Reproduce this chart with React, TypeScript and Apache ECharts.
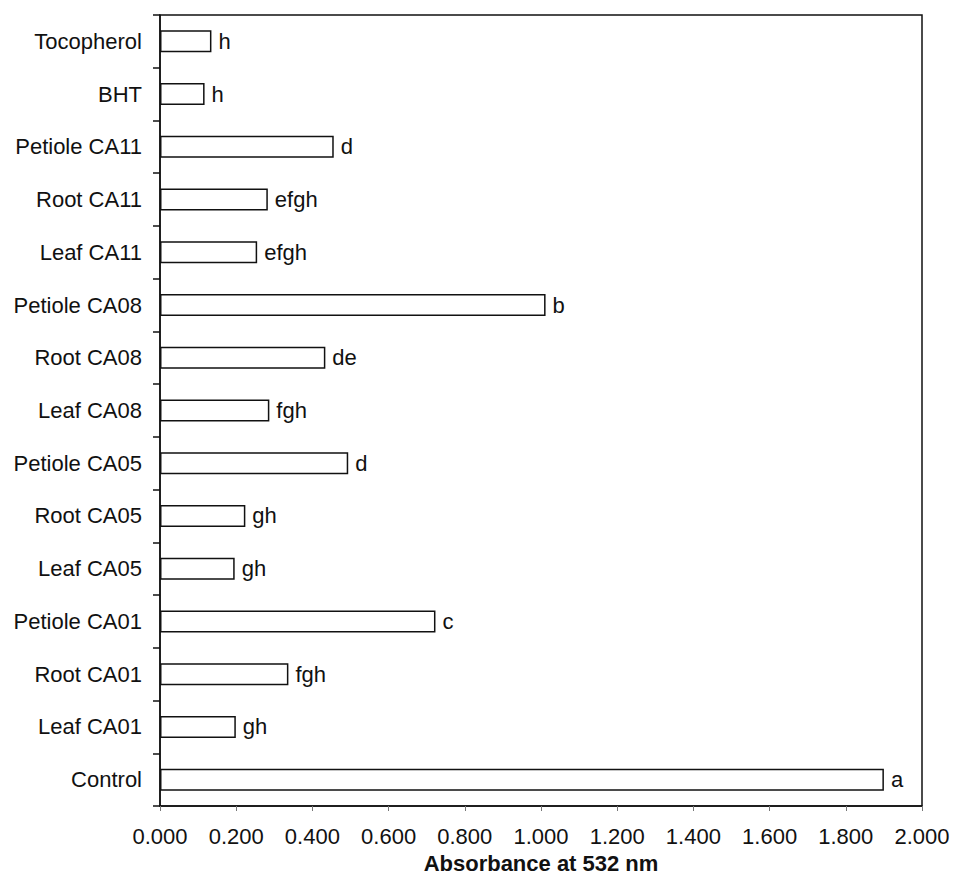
import React, { useEffect, useRef } from "react";
import * as echarts from "echarts";

const categories = [
  "Control",
  "Leaf CA01",
  "Root CA01",
  "Petiole CA01",
  "Leaf CA05",
  "Root CA05",
  "Petiole CA05",
  "Leaf CA08",
  "Root CA08",
  "Petiole CA08",
  "Leaf CA11",
  "Root CA11",
  "Petiole CA11",
  "BHT",
  "Tocopherol",
];
const absorbance = [1.9, 0.199, 0.337, 0.723, 0.196, 0.224, 0.494, 0.287, 0.434, 1.012, 0.255, 0.283, 0.456, 0.117, 0.135];
const letters = ["a", "gh", "fgh", "c", "gh", "gh", "d", "fgh", "de", "b", "efgh", "efgh", "d", "h", "h"];

const FONT = "'Liberation Sans', Arial, sans-serif";

export default function App() {
  const ref = useRef<HTMLDivElement>(null);
  useEffect(() => {
    if (!ref.current) return;
    const chart = echarts.init(ref.current, null, { renderer: "svg" });
    chart.setOption({
      animation: false,
      backgroundColor: "#ffffff",
      grid: {
        left: 160,
        right: 31,
        top: 15,
        bottom: 69,
        containLabel: false,
        outerBoundsMode: "none",
        show: true,
        borderColor: "#111",
        borderWidth: 1.5,
        backgroundColor: "transparent",
      },
      xAxis: {
        type: "value",
        min: 0,
        max: 2,
        interval: 0.2,
        name: "Absorbance at 532 nm",
        nameLocation: "middle",
        nameGap: 46,
        nameTextStyle: { fontFamily: FONT, fontSize: 22, fontWeight: "bold", color: "#111" },
        axisLine: { show: true, lineStyle: { color: "#111", width: 1.5 } },
        axisTick: { show: true, inside: false, length: 5, lineStyle: { color: "#777", width: 1 } },
        axisLabel: {
          margin: 19,
          fontFamily: FONT,
          fontSize: 22,
          color: "#111",
          formatter: (v: number) => v.toFixed(3),
        },
        splitLine: { show: false },
      },
      yAxis: {
        type: "category",
        data: categories,
        axisLine: { show: true, lineStyle: { color: "#111", width: 1.5 } },
        axisTick: { show: true, inside: false, length: 7, alignWithLabel: false, lineStyle: { color: "#111", width: 1.5 } },
        axisLabel: { margin: 18, fontFamily: FONT, fontSize: 22, color: "#111" },
        splitLine: { show: false },
      },
      series: [
        {
          type: "bar",
          data: absorbance,
          barWidth: 22,
          itemStyle: { color: "#ffffff", borderColor: "#111", borderWidth: 1.5 },
          label: {
            show: true,
            position: "right",
            distance: 7,
            fontFamily: FONT,
            fontSize: 22,
            color: "#111",
            formatter: (p: any) => letters[p.dataIndex],
          },
        },
      ],
    });
    return () => chart.dispose();
  }, []);
  return <div ref={ref} style={{ width: 953, height: 875, position: "absolute", left: 0, top: 0 }} />;
}
